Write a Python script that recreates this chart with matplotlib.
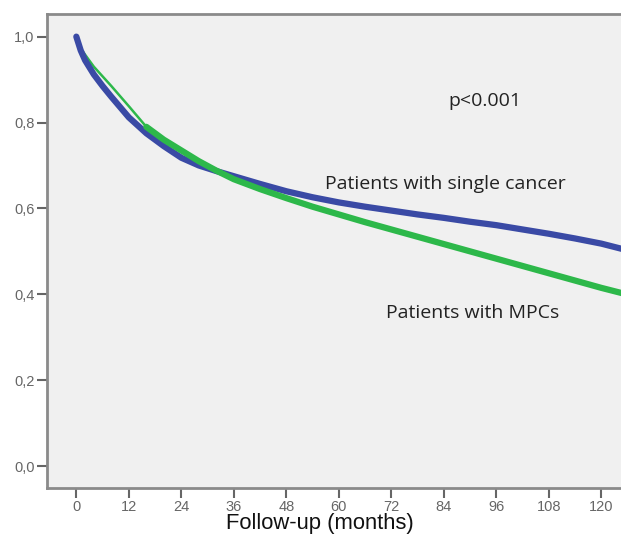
import matplotlib
matplotlib.use("Agg")
import matplotlib.pyplot as plt
from matplotlib.ticker import FuncFormatter

# survival (months, proportion surviving)
months_single = [0, 1, 2, 4, 6, 8, 10, 12, 16, 20, 24, 28, 32, 36, 42, 48, 54, 60, 66, 72, 78, 84, 90, 96, 102, 108, 114, 120, 125]
single_cancer = [1.0, 0.968, 0.945, 0.912, 0.885, 0.86, 0.836, 0.812, 0.775, 0.745, 0.718, 0.70, 0.687, 0.675, 0.657, 0.64, 0.626, 0.614, 0.604, 0.595, 0.586, 0.578, 0.569, 0.561, 0.551, 0.541, 0.53, 0.518, 0.505]

# MPC curve: sparse early part (thin), dense part from ~16 months (thick)
months_mpc_early = [0, 1, 4, 8, 12, 16]
mpcs_early = [1.0, 0.972, 0.93, 0.885, 0.838, 0.79]
months_mpc = [16, 20, 24, 28, 32, 36, 42, 48, 54, 60, 66, 72, 78, 84, 90, 96, 102, 108, 114, 120, 125]
mpcs = [0.79, 0.76, 0.735, 0.71, 0.688, 0.668, 0.645, 0.624, 0.604, 0.586, 0.568, 0.551, 0.534, 0.517, 0.5, 0.483, 0.466, 0.449, 0.432, 0.415, 0.402]

xticks = [0, 12, 24, 36, 48, 60, 72, 84, 96, 108, 120]
yticks = [0.0, 0.2, 0.4, 0.6, 0.8, 1.0]

fig = plt.figure(figsize=(6.21, 5.40), dpi=100)
ax = fig.add_axes([0.0757, 0.0963, 0.93, 0.878])
ax.set_facecolor("#f0f0f0")

green = "#2db84a"
blue = "#3a4aa5"
ax.plot(months_mpc_early, mpcs_early, color=green, linewidth=1.8)
ax.plot(months_single, single_cancer, color=blue, linewidth=4.5, solid_capstyle="round")
ax.plot(months_mpc, mpcs, color=green, linewidth=4.5, solid_capstyle="round")

ax.set_xlim(-6.7, 125.3)
ax.set_ylim(-0.051, 1.053)
ax.set_xticks(xticks)
ax.set_yticks(yticks)
ax.yaxis.set_major_formatter(FuncFormatter(lambda v, p: f"{v:.1f}".replace(".", ",")))

for side in ["left", "bottom", "top"]:
    ax.spines[side].set_color("#8a8a8a")
    ax.spines[side].set_linewidth(2)
ax.spines["right"].set_visible(False)

ax.tick_params(axis="both", colors="#666666", labelsize=10.5, width=1.5, length=7)
ax.tick_params(axis="y", pad=2)
ax.tick_params(axis="x", pad=2)
for lab in ax.get_xticklabels() + ax.get_yticklabels():
    lab.set_family("Liberation Sans")

fig.text(320 / 621, 1 - 524 / 540, "Follow-up (months)", fontsize=15.8, family="Liberation Sans",
         color="#111111", ha="center", va="center")

ax.text(93.3, 0.851, "p<0.001", fontsize=14, family="Open Sans", color="#222222", ha="center", va="center")
ax.text(84.4, 0.658, "Patients with single cancer", fontsize=14, family="Open Sans", color="#222222", ha="center", va="center")
ax.text(90.6, 0.356, "Patients with MPCs", fontsize=14, family="Open Sans", color="#222222", ha="center", va="center")

fig.savefig("out.png", dpi=100)
